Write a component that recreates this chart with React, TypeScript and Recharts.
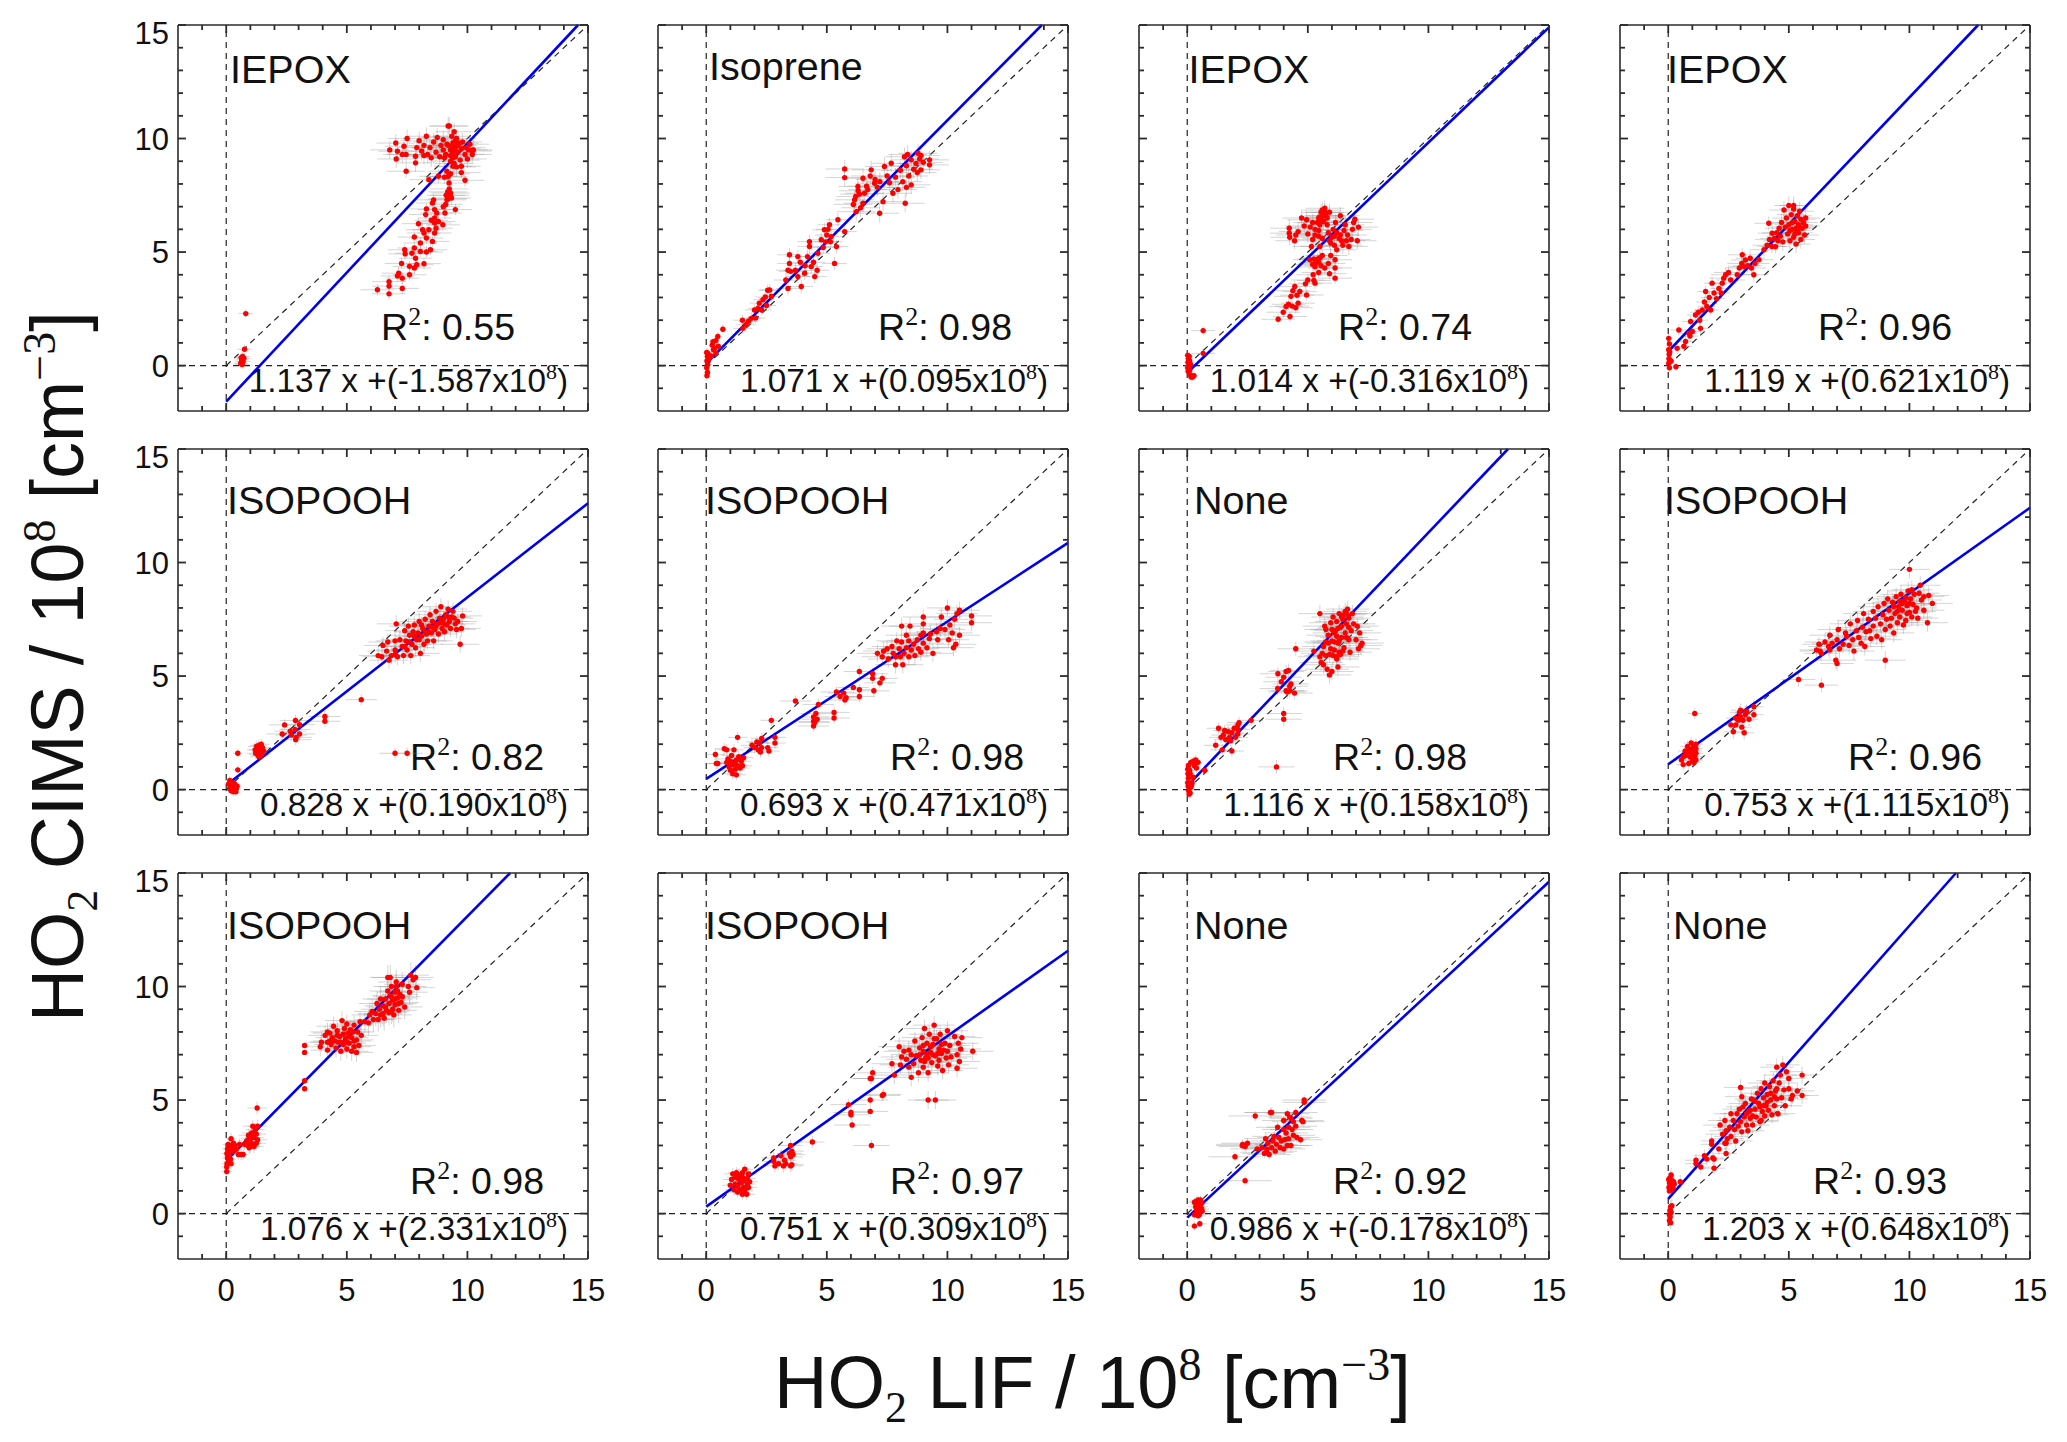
import React from "react";
import {
  ScatterChart,
  Scatter,
  XAxis,
  YAxis,
  ErrorBar,
  ReferenceLine,
} from "recharts";

// one group = [x error, y error, points as [x, y]]
type Group = [number, number, number[][]];

const majorTicks = [0, 5, 10, 15];
const allTicks = [-1, 0, 1, 2, 3, 4, 5, 6, 7, 8, 9, 10, 11, 12, 13, 14, 15];
const domain = [-2, 15];

const names = ["IEPOX", "Isoprene", "IEPOX", "IEPOX", "ISOPOOH", "ISOPOOH", "None", "ISOPOOH", "ISOPOOH", "ISOPOOH", "None", "None"];
const rSquared = ["0.55", "0.98", "0.74", "0.96", "0.82", "0.98", "0.98", "0.96", "0.98", "0.97", "0.92", "0.93"];
const slopes = [1.137, 1.071, 1.014, 1.119, 0.828, 0.693, 1.116, 0.753, 1.076, 0.751, 0.986, 1.203];
const intercepts = [-1.587, 0.095, -0.316, 0.621, 0.19, 0.471, 0.158, 1.115, 2.331, 0.309, -0.178, 0.648];

const panel1: Group[] = [
  [0.3, 0.2, [[.81,2.29],[.76,.72],[.68,.4],[.64,.25],[.73,.32],[.6,.1],[.7,.18],[.66,.05],[.62,.35]]],
  [0.7, 0.25, [[6.27,3.34],[6.75,3.16],[6.75,3.5],[6.75,3.7],[7.3,3.4],[7.3,3.85],[7.15,4.07],[7.1,3.95],[7.6,4],[7.27,4.5],[7.6,4.37],[7.8,4.3],[7.9,4.44],[8.2,4.49],[7.7,4.95],[7.4,5.1],[7.42,4.92],[7.8,5.18],[7.85,4.73],[8.05,5.03],[8.3,5],[8.47,5.1],[7.8,5.66],[8.05,5.4],[8.2,5.84],[8.14,5.98],[8.3,5.62],[8.55,5.47],[8.4,5.98],[8.64,5.84],[7.97,6.25],[8.64,6.28],[8.64,6.5],[8.98,6.2],[8.8,6.35],[8.27,6.65],[8.3,6.9],[8.55,7.16],[8.64,6.87],[8.73,6.72],[9.07,6.72],[9.5,6.87],[9,7],[9.1,7.1],[8.6,7.3],[8.5,6.4],[8.7,6.05]]],
  [0.8, 0.3, [[9.2,7.35],[9.28,7.5],[9.18,7.65],[9.25,7.78],[9.12,7.5],[9.34,7.38],[9.3,7.6],[9.15,7.3],[9.24,8.04],[9.2,8.33],[9.3,8.45],[9.9,8.16],[8.4,8.19],[8.8,8.34],[9.15,8.56],[9.4,8.78],[9.75,8.5],[9.75,8.78],[7.46,8.56],[9.05,8.3]]],
  [0.8, 0.4, [[6.78,9.5],[7.03,9.8],[7.1,9.44],[7.05,9.1],[7.3,9.3],[7.46,9.3],[7.5,10],[7.37,9.66],[7.85,8.93],[7.85,9.22],[7.9,9.6],[8,9.9],[8.1,9.45],[8.2,9.7],[8.3,10.1],[8.35,9.3],[8.45,9.6],[8.6,9.85],[8.7,9.4],[8.75,10.05],[8.85,9.2],[8.9,9.7],[9,9.5],[9,9.95],[9.1,9.3],[9.15,9.75],[9.2,10.55],[9.25,10.55],[9.3,9],[9.3,9.5],[9.35,10.1],[9.4,9.8],[9.45,10.3],[9.5,9.2],[9.5,9.6],[9.55,10],[9.6,9.4],[9.65,9.8],[9.7,9.05],[9.75,9.55],[9.8,9.85],[9.9,9.3],[9.95,9.6],[10,9.1],[10.05,9.5],[10.1,9.75],[10.2,9.3],[10.25,9.5],[10.2,9.45],[9.2,9.7],[9.3,9.25],[9.4,9.4],[9.45,8.9],[9.55,8.75],[8.5,9.15],[8.2,9.25],[9.05,9.15],[9.35,9.65],[9.45,9.55],[9.5,9.9],[9.6,9.7],[9.4,9.15]]],
];

const panel2: Group[] = [
  [0.15, 0.2, [[.03,-.45],[.05,-.3],[.02,-.1],[.06,.05],[.03,.2],[.05,.4],[.02,.58],[.08,.25],[.07,.54],[.12,.35],[.2,.42],[.28,1.05],[.3,.7],[.35,.76],[.4,.55],[.48,1.28],[.69,1.6],[.5,.85],[.25,.9],[.4,1.1]]],
  [0.4, 0.25, [[1.5,2],[1.52,1.64],[1.65,1.8],[1.87,2.08],[1.75,1.95],[2,2.45],[2.14,2.52],[2.05,2.1],[2.2,2.75],[2.35,2.9],[2.63,3.33],[2.7,3.04],[2.5,2.65],[2.45,3.02],[2.3,2.45],[2.55,3.32]]],
  [0.5, 0.3, [[3.45,4.88],[3.45,4.5],[3.39,4.2],[3.3,3.77],[3.39,3.4],[3.5,4.15],[3.7,4.2],[3.8,4.8],[3.8,3.92],[3.94,3.48],[4.08,4.07],[4.2,4.8],[4.35,4.36],[4.5,3.92],[4.28,5.46],[4.28,5.25],[4.63,4.95],[4.77,5.54],[4.9,5.98],[5.11,6.2],[5.18,5.68],[5.4,5.24],[5.32,4.5],[4.85,5.2],[5,5.75],[5.05,6],[4.45,4.55],[4.6,4.2],[3.9,4.55],[4.1,4.4],[5.74,5.9],[5.46,6.42],[4.95,5.45],[5.15,5.45]]],
  [0.8, 0.4, [[5.74,8.66],[5.74,8.28],[6.15,7.3],[6.22,6.78],[6.29,7.89],[6.56,7.59],[6.5,8.25],[6.84,8.62],[6.98,8.03],[7.19,6.71],[7.33,7.22],[7.39,8.77],[7.67,8.91],[7.74,7.59],[8.22,9.2],[8.25,7.15],[8.5,9.06],[8.5,7.96],[8.78,9.35],[9.26,9.06],[9.26,8.84],[8.9,8.62],[6.1,7.1],[6.2,7.45],[6.4,6.95],[6.5,7.15],[6.35,7.55],[6.7,7.75],[6.8,8.35],[7,8.2],[7.1,7.85],[7.2,8.1],[7.5,8.35],[7.6,8.05],[7.85,8.3],[7.95,7.75],[8.05,8.6],[8.15,8.1],[8.3,8.8],[8.4,8.35],[8.6,8.65],[8.7,8.9],[8.75,8.5],[8.85,9.1],[9,8.95],[8.3,7.85],[8.35,9.3],[8.9,9.25],[6.3,7.7],[6.65,7.9]]],
];

const panel3: Group[] = [
  [0.15, 0.2, [[.02,.45],[.05,.3],[.03,.15],[.08,.4],[.06,0],[.02,-.1],[.04,-.25],[.1,-.2],[.14,.05],[.1,.2],[.12,-.4],[.16,-.5],[.22,-.5],[.28,-.45]]],
  [0.5, 0.2, [[.66,1.54],[.66,.54]]],
  [0.7, 0.25, [[3.77,2.04],[3.98,2.35],[4.26,2.16],[4.35,2.62],[4.2,2.7],[4.1,2.6],[4.5,2.55],[4.6,2.75],[4.3,3.05],[4.46,3.48],[4.38,3.3],[4.67,3.26],[4.55,3.1],[4.95,3.11],[5,3.77],[4.9,3.6],[5.3,3.63],[5.22,4],[5.08,4.66],[5.3,4.35],[5.4,4.7],[5.45,4.1],[5.55,4.4],[5.6,4.85],[5.2,4.45],[5.35,4.55],[5.7,4.3],[5.85,4.5],[5.9,4.05],[6.13,3.85],[6.13,4.3],[6.13,4.66],[5.95,4.85],[5.25,3.75],[5.3,4.5],[5.45,4.55],[5.5,4.75],[5.25,4.7]]],
  [0.8, 0.38, [[4.23,6.05],[4.23,5.83],[4.25,5.65],[4.5,5.75],[4.45,5.5],[4.6,5.9],[4.74,6.5],[4.95,6.42],[4.85,6.15],[5,5.8],[5.1,6.1],[5.2,5.55],[5.3,6],[5.4,6.3],[5.45,5.7],[5.5,5.25],[5.5,6.55],[5.6,6.85],[5.7,6.93],[5.75,6.6],[5.8,6.2],[5.85,5.85],[5.65,6.35],[5.55,6.75],[5.9,6.75],[5.95,5.4],[6,5.65],[6.05,6],[6.15,6.3],[6.2,5.1],[6.3,5.6],[6.35,6.6],[6.45,5.3],[6.5,5.95],[6.55,6.2],[6.65,5.75],[6.7,5.25],[6.8,5.55],[6.85,6],[6.9,6.3],[6.95,6.45],[7.05,5.5],[7.1,6.1],[5.8,6.5],[5.6,5.6],[5.2,6.3],[5.15,5.25],[6.1,5.3],[5.9,5.5],[5.45,6.5],[5.55,6.4],[5.65,6.6],[5.7,6.75],[5.5,6.2],[5.3,5.75],[5.45,5.95],[6.1,5.7],[6.2,5.85],[6.35,5.75],[6.4,5.5],[6.6,5.5]]],
];

const panel4: Group[] = [
  [0.12, 0.2, [[.02,1.2],[.05,.95],[.02,.7],[.04,.5],[.03,.3],[.02,.1],[.05,-.1],[.06,.6],[.32,-.05],[.12,.2]]],
  [0.35, 0.25, [[.44,1.57],[.37,.76],[.72,1.06],[.86,1.42],[.93,1.94],[1.13,2.23],[1.34,1.64],[1.41,2.45],[1.55,3.26],[1.76,2.45],[1.82,3.63],[.9,1.3],[.65,.85],[1,1.5],[1.25,2.35],[1.3,2],[1.5,2.8],[1.6,2.6],[1.7,3],[1.9,3.2],[2,2.95],[2.1,3.4],[2.2,3.2]]],
  [0.6, 0.3, [[2.24,3.63],[2.38,4],[2.59,3.77],[2.86,4],[3.07,4.88],[3.14,4.36],[3.4,4.73],[3.55,4],[3.76,4.66],[3.97,5.1],[2.5,4.1],[2.3,3.85],[2.95,4.3],[3.05,4.5],[3.3,4.4],[3.45,4.3],[3.2,4.65],[3.6,4.5],[4.17,6.27],[4.31,5.83],[4.45,5.24],[4.1,5.3],[4.2,5.55],[4.3,5.25],[4.4,5.6],[4.5,5.85],[4.55,5.5]]],
  [0.6, 0.4, [[4.6,6.05],[4.65,5.7],[4.7,6.3],[4.75,5.45],[4.8,6.85],[4.85,6.1],[4.9,6.5],[4.95,5.8],[5,7.05],[5,6.2],[5.05,5.5],[5.1,6.65],[5.15,6],[5.2,6.9],[5.2,5.65],[5.25,6.35],[5.3,5.35],[5.3,6.05],[5.35,6.6],[5.4,5.85],[5.4,6.2],[5.45,6.8],[5.5,5.55],[5.5,6.45],[5.55,6.05],[5.6,6.3],[5.65,5.75],[5.7,6.5],[5.7,6.15],[5.2,7.05],[5.05,5.95],[5.15,6.3],[5.25,5.8],[5.35,5.95],[5.45,6.1]]],
];

const panel5: Group[] = [
  [0.2, 0.2, [[.1,.25],[.15,.4],[.2,.1],[.25,.3],[.3,.15],[.35,.25],[.4,.05],[.45,.15],[.2,-.05],[.3,-.1],[.4,-.1],[.15,.05],[.48,1.6],[.48,.87]]],
  [0.35, 0.25, [[1.2,1.75],[1.22,1.6],[1.25,1.9],[1.3,1.55],[1.3,1.75],[1.35,1.95],[1.35,1.45],[1.4,1.65],[1.42,1.8],[1.45,2],[1.48,1.55],[1.5,1.85],[1.4,1.5],[1.55,1.7]]],
  [0.65, 0.25, [[2.42,2.85],[2.87,3.04],[3.04,2.86],[2.32,2.45],[2.65,2.57],[2.7,2.4],[2.9,2.3],[2.88,2.2],[3.04,2.45],[2.85,2.65],[4.09,3.22],[4.09,3.01],[5.6,3.96],[7,1.6],[7.5,1.6]]],
  [0.8, 0.38, [[6.3,5.9],[6.5,6.35],[6.45,5.85],[6.65,6.1],[6.7,6.5],[6.75,5.7],[6.85,5.9],[7,6.15],[7,6.55],[7.05,7.3],[7.1,5.85],[7.2,6.6],[7.3,6.3],[7.35,5.9],[7.4,7],[7.45,6.55],[7.5,6.15],[7.6,6.8],[7.65,5.9],[7.7,6.4],[7.75,6.95],[7.8,7.25],[7.85,6.25],[7.9,6.6],[7.95,6.9],[8,7.4],[8.05,6],[8.1,6.75],[8.15,7.1],[8.2,6.4],[8.25,7.5],[8.3,6.85],[8.35,6.55],[8.4,7.2],[8.45,7.7],[8.5,6.9],[8.55,7.4],[8.6,6.55],[8.65,7.05],[8.7,7.85],[8.75,7.3],[8.8,6.85],[8.85,7.55],[8.9,8.05],[8.95,7.1],[9,7.5],[9.05,6.95],[9.1,7.7],[9.15,7.25],[9.2,7.95],[9.25,7.4],[9.3,7.1],[9.35,7.6],[9.4,7.85],[9.5,7.3],[9.55,7.05],[9.6,7.4],[9.75,7.1],[9.8,7.65],[9.7,6.4],[7.6,6.5],[7.8,6.75],[8,6.6],[8.1,7.25],[8.25,6.95],[8.4,6.95],[8.55,7.15],[8.7,7.2],[8.9,7.35],[9.05,7.3],[9.2,7.6],[9.45,7.55],[7.4,6.3],[7,5.95],[7.55,7.2]]],
];

const panel6: Group[] = [
  [0.4, 0.25, [[.38,1.55],[.42,1.15],[.48,1.15],[.75,1.8],[.85,1.75],[.9,1.35],[.85,1.2],[.95,1],[1,.85],[1,1.25],[1.05,1.5],[1.1,.7],[1.1,1.1],[1.15,1.75],[1.2,.9],[1.25,.65],[1.25,1.3],[1.3,1.05],[1.3,2.3],[1.35,1.45],[1.4,.95],[1.45,1.25],[1.5,1.05],[1.55,1.4],[.95,1.15],[1.2,1.15]]],
  [0.45, 0.25, [[1.9,1.95],[2,1.85],[2.1,2.1],[2.15,1.75],[2.2,2.05],[2.25,1.65],[2.3,1.85],[2.3,2.25],[2.55,1.85],[2.6,1.7],[2.85,2.3],[2.85,2.05],[2.7,3.05]]],
  [0.65, 0.25, [[3.7,3.9],[4.45,3],[4.45,2.8],[4.45,3.2],[4.55,3.35],[4.65,3.75],[4.6,3.1],[4.5,2.95],[5.3,3.4],[5.3,3.15],[5.4,4.3],[5.55,4.1],[5.7,4.25],[5.75,3.95],[5.8,4.05],[6.1,4.5],[6.35,4.4],[6.35,5.2],[6.35,4.1],[6.9,4.9],[6.95,4.35],[6.9,5.1],[7.2,4.7],[7.3,4.9]]],
  [0.85, 0.38, [[7.1,6],[7.3,5.85],[7.35,6.1],[7.5,6.2],[7.55,5.75],[7.7,6.3],[7.75,6],[7.85,5.5],[7.9,6.55],[7.85,5.85],[8,6.2],[8.05,5.85],[8.1,7.2],[8.1,6.5],[8.15,5.5],[8.2,6],[8.3,6.8],[8.3,6.25],[8.4,6.55],[8.4,5.85],[8.45,7.2],[8.5,6.15],[8.6,6.4],[8.65,5.9],[8.75,6.6],[8.8,6.2],[8.9,6.8],[8.9,6.05],[9,6.45],[9,7.3],[9,6.9],[9.15,6.25],[9.25,6.65],[9,7.6],[9.3,6.85],[9.4,6],[9.55,6.95],[9.7,7.1],[9.6,6.6],[10,8],[10.05,6.6],[10.1,7.25],[10.2,6.9],[10.3,7.5],[10.25,6.25],[10.35,6.4],[10.4,7.75],[10.5,6.8],[10.5,7.9],[11,7.65],[11,7.35],[9.9,7.05],[9.75,7.6]]],
];

const panel7: Group[] = [
  [0.15, 0.22, [[.02,.9],[.03,.7],[.05,.5],[.02,.3],[.04,.15],[.06,-.05],[.08,-.2],[.12,-.15],[.15,.1],[.18,.2],[.05,1.05],[.1,.85],[.2,.3],[.25,.55],[.12,.7],[.15,1.2],[.25,1.25],[.3,1.05],[.35,1.3],[.4,1.2],[.38,.95],[.45,1.2],[.72,.85]]],
  [0.5, 0.25, [[1.18,1.95],[1.3,2.7],[1.4,2.3],[1.45,1.75],[1.5,2.4],[1.55,2.6],[1.6,2.2],[1.7,2.55],[1.75,2.3],[1.8,2.15],[1.85,1.7],[1.85,2.5],[1.95,2.7],[2,2.3],[2.1,2.45],[2.1,2.85],[2.15,2.95],[2.65,3.05],[2.1,2.65]]],
  [0.75, 0.3, [[3.7,1],[3.76,5.1],[3.75,4.45],[3.9,4.75],[4,4.95],[4.1,5.2],[4.2,5.25],[4.1,4.35],[4.25,4.55],[4.3,4.65],[4.25,4.35],[4.15,4.3],[4.45,4.25],[4,3.35],[4,3.1],[4.5,6.2]]],
  [0.9, 0.38, [[5.25,6.1],[5.5,5.85],[5.55,5.6],[5.6,6],[5.65,5.5],[5.7,7.2],[5.5,7.75],[5.65,6.3],[5.75,7.05],[5.75,6.5],[5.8,5.3],[5.85,6.8],[5.9,5.95],[5.95,7.35],[6,6.55],[6,5.2],[6.05,7.6],[6.1,6.15],[6.1,6.9],[6.15,7],[6.2,5.75],[6.2,7.4],[6.25,6.45],[6.3,7.75],[6.35,5.95],[6.35,7.15],[6.4,6.7],[6.45,7.5],[6.5,6.25],[6.55,7.85],[6.55,6.9],[6.6,7.3],[6.65,7.95],[6.7,6.6],[6.7,7.55],[6.75,6.05],[6.8,7],[6.85,7.75],[6.9,7.3],[7,6.6],[7.05,7.2],[7.1,6.2],[7.15,6.9],[7.2,6.35],[7.25,6.45],[6.05,5.9],[5.9,5.05],[6.25,5.4],[6.2,5.85],[6.2,6.75],[6.3,6.55],[6.4,7.2],[6.45,6.1],[6.5,7.7],[6.6,6.7],[6.7,7.15],[6.25,7.1],[6,7.05],[6.1,6.5],[5.95,6.2],[5.85,6.45],[5.75,5.9],[6.3,6.05],[6.4,7.6],[6.6,7.75]]],
];

const panel8: Group[] = [
  [0.3, 0.25, [[.62,1.45],[.55,1.3],[.7,1.7],[.72,1.5],[.8,1.9],[.85,1.65],[.9,1.45],[.95,2.05],[.95,1.75],[1,1.55],[1,1.3],[1.05,1.2],[1.05,1.9],[1.1,1.7],[1.1,1.45],[1.15,2],[1.15,1.8],[1.15,1.6],[1.15,1.3],[.85,1.15],[.62,1.1],[1.1,3.35]]],
  [0.4, 0.3, [[2.6,2.85],[2.7,2.55],[2.8,2.85],[2.8,3.15],[2.9,3.05],[2.95,3.4],[3,3.5],[3,3.2],[3.05,2.75],[3.1,3.05],[3.15,2.5],[3.2,3.3],[3.25,3.45],[3.35,3.1],[3.55,3.3],[3.55,3.65]]],
  [0.7, 0.32, [[5.4,4.85],[6.35,4.6],[7,5.55],[6.35,6],[6.15,6.15],[6.25,6.4]]],
  [0.85, 0.4, [[6.3,6.1],[6.5,6.5],[6.65,6.3],[6.7,6.8],[6.7,6.15],[6.8,6.45],[6.95,5.7],[7,6.6],[7.05,7.05],[7.1,6.2],[7.25,6.4],[7.35,6.9],[7.4,6.75],[7.5,6.35],[7.55,7.3],[7.65,6.6],[7.7,6.1],[7.8,7],[7.85,7.45],[7.9,6.7],[8,6.45],[8.05,7.15],[8.1,7.75],[8.15,6.3],[8.2,6.95],[8.3,7.5],[8.35,7],[8.4,6.65],[8.5,7.85],[8.5,7.2],[8.6,7.55],[8.65,6.75],[8.7,8.05],[8.8,7.3],[8.85,6.6],[8.9,7.7],[8.95,8.2],[9,5.7],[9,7.05],[9.05,7.5],[9.1,8.4],[9.15,7.9],[9.2,7.2],[9.25,7.55],[9.3,8.25],[9.35,6.9],[9.4,7.75],[9.45,8.5],[9.5,7.35],[9.55,8.05],[9.6,7.6],[9.65,8.6],[9.7,7.9],[9.75,7.25],[9.8,8.3],[9.85,7.45],[9.9,8.1],[9.95,8.75],[10,7.8],[10,9.7],[10.05,8.4],[10.1,7.6],[10.15,8.15],[10.3,8],[10.35,7.55],[10.4,8.65],[10.45,9],[10.5,8.35],[10.6,7.9],[10.6,8.5],[10.8,8.55],[10.95,8.2],[10.75,7.35],[9.7,8.2],[9.85,8.45],[10,8.2],[10.2,8.6],[9.5,7.85],[9.6,8.3],[9.9,7.75],[10.25,7.85],[10.1,8.8],[9.35,8.05]]],
];

const panel9: Group[] = [
  [0.22, 0.25, [[.02,1.85],[.02,2.05],[.03,2.2],[.05,2.45],[.03,2.65],[.05,2.85],[.08,3.05],[.1,2.3],[.12,2.55],[.15,2.7],[.15,3],[.18,2.4],[.2,3.3],[.25,2.9],[.3,2.75],[.3,3.1],[.35,3],[.42,2.85],[.5,2.6],[.55,3.05],[.62,2.6],[.7,2.6],[.75,3.05],[.2,2.2]]],
  [0.4, 0.28, [[.85,3.2],[.9,3],[.92,3.45],[.95,2.9],[1,3.3],[1,2.95],[1.05,3.55],[1.05,3.1],[1.1,3.85],[1.15,3.35],[1.15,2.95],[1.2,3.7],[1.25,3.1],[1.25,3.5],[1.3,3.85],[1.3,3.25],[1.28,4.65]]],
  [0.1, 0.1, [[3.25,5.5],[3.25,5.85],[3.25,7.1],[3.25,7.4]]],
  [0.7, 0.42, [[3.9,7.35],[3.95,7.55],[4.1,7.85],[4.2,8],[4.2,7.2],[4.2,7.55],[4.3,7.6],[4.3,7.95],[4.35,7.45],[4.4,7.75],[4.45,8.25],[4.55,7.3],[4.6,8.05],[4.65,7.55],[4.7,7.8],[4.75,7.15],[4.8,8.5],[4.85,7.45],[4.9,8.15],[4.95,7.7],[5,7.25],[5,8.35],[5.05,7.95],[5.1,7.5],[5.15,8.1],[5.2,7.75],[5.2,7.15],[5.3,7.35],[5.3,8.3],[5.4,7.65],[5.45,8],[5.5,7.4],[5.55,8.45],[5.6,7.85],[5.4,7.1],[5.75,8.45],[4.6,7.85],[4.75,7.55],[4.85,7.9],[5,7.55],[5.1,7.8],[5.25,8],[5.3,7.6],[4.5,7.6]]],
  [0.75, 0.55, [[5.9,8.4],[5.95,8.75],[6.05,8.9],[6.1,8.55],[6.2,8.8],[6.25,9.25],[6.3,8.55],[6.35,9],[6.4,8.75],[6.4,9.45],[6.5,9.15],[6.55,8.6],[6.6,9.45],[6.65,8.95],[6.7,9.8],[6.7,10.4],[6.75,9.25],[6.8,9.6],[6.85,8.9],[6.85,10],[6.9,9.4],[6.95,8.75],[7,9.75],[7,9.2],[7.05,10],[7.05,10.2],[7.1,9.5],[7.15,8.95],[7.25,9.3],[7.3,10.1],[7.3,9.55],[7.4,9.1],[7.55,10],[7.6,9.75],[7.75,10.3],[7.85,10.4],[7.65,10.5],[6.8,10.4],[7.9,9.95],[6.6,9.1],[6.75,8.85],[6.9,9],[7,9.45],[7.15,9.25],[7.2,9.65],[6.5,8.8],[6.85,9.55],[7.1,9.8]]],
];

const panel10: Group[] = [
  [0.35, 0.25, [[1,1.25],[1.05,1.5],[1.1,1.75],[1.15,1.05],[1.2,1.3],[1.2,1.6],[1.25,1.8],[1.3,.95],[1.3,1.2],[1.35,1.5],[1.35,1.7],[1.4,1.05],[1.45,1.35],[1.5,.85],[1.5,1.6],[1.5,1.8],[1.55,1.15],[1.55,1.45],[1.6,1.95],[1.6,1],[1.7,1.3],[1.7,1.55],[1.75,1.75],[1.75,1.15],[1.8,1.4],[1.68,.85]]],
  [0.5, 0.28, [[2.8,2.3],[2.8,2.45],[2.85,2.1],[3,2.2],[3.1,2.55],[3.2,2.1],[3.25,2.35],[3.3,2.2],[3.45,2.65],[3.5,3],[3.5,2.5],[3.5,2.1],[3.55,2.15],[3.6,2.6],[3.55,2.75],[4.4,3.15]]],
  [0.75, 0.25, [[5.9,4.8],[6,4.45],[6,4.35],[6.05,3.9],[6.8,5],[6.8,4.5],[6.85,3],[6.85,5.95],[6.8,5.95],[7.3,5.2],[7.35,5.25],[6.9,6.2]]],
  [0.85, 0.4, [[7.7,6.6],[7.8,6.1],[8,7.35],[8.05,6.55],[8.1,6.9],[8.2,7.15],[8.3,6.8],[8.4,6.45],[8.4,7.2],[8.5,6],[8.5,7],[8.6,6.6],[8.65,7.6],[8.7,6.95],[8.8,6.2],[8.85,7.3],[8.9,6.75],[8.95,7.75],[9,6.45],[9,7.15],[9.05,8.15],[9.1,6.85],[9.15,7.5],[9.2,5],[9.2,6.2],[9.25,7.9],[9.3,7.1],[9.35,6.65],[9.4,7.45],[9.45,8.3],[9.5,5],[9.5,6.95],[9.55,7.7],[9.6,6.5],[9.65,7.25],[9.7,7.9],[9.75,7.05],[9.8,6.3],[9.9,7.5],[9.95,6.85],[10,8.05],[10,7.15],[10.05,6.55],[10.1,7.4],[10.15,6.9],[10.3,7.8],[10.4,7],[10.45,7.5],[10.5,6.7],[10.55,7.25],[10.6,7.75],[10.4,6.4],[11.05,7.15],[9,7.4],[9.15,7],[9.3,7.35],[9.4,7],[9.45,7.7],[9.6,7.05],[9.65,6.75],[9.75,7.45],[9.85,7.2],[9.2,6.85],[8.85,7],[9.05,6.7]]],
];

const panel11: Group[] = [
  [0.3, 0.2, [[.3,.5],[.35,.3],[.38,.55],[.4,.15],[.42,.4],[.45,.6],[.48,.25],[.5,.45],[.55,.3],[.55,.55],[.6,.2],[.6,.45],[.62,.1],[.4,0],[.5,-.05],[.3,-.55],[.52,-.45],[.3,-.05],[.45,-.1],[.55,.6]]],
  [1.1, 0.22, [[2.4,1.45],[2.28,3],[1.98,2.5],[2.3,3.05],[2.4,2.95],[2.5,3.1],[2.9,2.85],[3.3,2.7],[3.45,4.45],[3.5,4.45],[2.82,4.3]]],
  [0.9, 0.22, [[3.1,2.9],[3.2,2.65],[3.25,3.3],[3.3,2.85],[3.35,3.1],[3.4,2.6],[3.5,2.9],[3.55,3.2],[3.6,3.4],[3.65,2.75],[3.7,3.05],[3.75,3.8],[3.8,3.35],[3.85,2.9],[3.9,3.2],[4,3.7],[4,4.1],[4,2.85],[4.05,3.25],[4.1,3.55],[4.15,3],[4.15,4.4],[4.2,3.8],[4.2,3.3],[4.25,4.25],[4.3,4.2],[4.3,3],[4.35,3.7],[4.4,3.45],[4.4,4.05],[4.5,4.45],[4.5,3.85],[4.55,3.35],[4.7,3.25],[4.75,4.1],[4.8,4.05],[4.85,5],[4.85,4.9]]],
];

const panel12: Group[] = [
  [0.12, 0.3, [[.02,1.5],[.05,1.35],[.03,1.15],[.08,1.55],[.12,1.7],[.15,1.45],[.1,1.25],[.15,1.05],[.18,1.35],[.2,1.15],[.22,1.4],[.25,1.3],[.5,1.4],[.05,-.05],[.08,-.15],[.1,.3],[.08,.15],[.05,-.3],[.12,.05],[.1,-.4],[.15,.35],[.05,1]]],
  [0.45, 0.28, [[1.15,2.35],[1.15,2.2],[1.35,2.05],[1.5,2.55],[1.6,2.4],[1.85,2.45],[1.9,2],[1.9,2.4],[1.8,3.05],[1.8,3.2],[2.4,2.65],[2.4,3.1],[2.35,3.1],[2.1,2.85]]],
  [0.7, 0.38, [[2.15,3.9],[2.25,3.5],[2.35,4.1],[2.4,3.65],[2.45,3.3],[2.55,3.8],[2.6,3.4],[2.6,4.4],[2.7,4.1],[2.75,3.7],[2.8,3.2],[2.85,4.4],[2.9,3.85],[2.95,4.6],[3,4.05],[3.05,3.6],[3.05,5.15],[3,5.55],[3.1,4.7],[3.15,4.25],[3.2,4.85],[3.25,3.9],[3.3,3.65],[3.35,4.5],[3.4,4.2],[3.45,5.05],[3.5,3.9],[3.55,5],[3.6,4.6],[3.65,4.25],[3.7,5.3],[3.75,4.85],[3.8,4.05],[3.85,5.5],[3.9,4.5],[3.95,5.1],[4,5.75],[4,4.3],[4.05,4.75],[4.1,5.25],[4.15,4.55],[4.2,5.6],[4.25,5],[4.3,4.35],[4.35,5.85],[4.4,4.75],[4.45,5.4],[4.5,6.45],[4.5,5.05],[4.55,4.4],[4.6,5.75],[4.65,6.1],[4.7,5.1],[4.75,6.55],[4.8,5.45],[4.85,4.75],[4.9,6.25],[5,5.95],[5,5.5],[5.1,5.05],[5.15,5.2],[5.35,5.4],[5.55,5.2],[5.55,6.1],[3.85,4.1],[3.4,4.55],[3.6,4.95],[3.8,4.7],[3.95,4.75],[4.1,4.9],[4.25,5.3],[4.4,5.15],[4.5,5.5],[3.25,4.4],[3.5,4.3]]],
];

const panels = [panel1, panel2, panel3, panel4, panel5, panel6, panel7, panel8, panel9, panel10, panel11, panel12];

const panelLeft = [178, 658, 1139, 1620];
const panelTop = [25, 449, 873];
const plotW = 410;
const plotH = 386;
const pad = 60;
const thin = 0.001; // an axis of size 0 is not drawn at all

const nameX = [52, 51, 49.5, 47, 49, 47, 55, 44, 49, 47, 55, 53];
const nameY = [58, 55, 58, 58, 65, 65, 65, 65, 66, 66, 66, 66];
const r2X = [337, 354, 333, 332, 366, 366, 328, 362, 366, 366, 328, 327];
const r2Y = [315, 315, 315, 315, 321, 321, 321, 321, 321, 321, 321, 321];

const sans = "'Liberation Sans', Arial, sans-serif";
const serif = "'Liberation Serif', serif";
const frame = "#2b2b2b";
const labelSize = 31;
const tickWidth = 1.8;

// inward ticks on both sides of the frame, plus the label where the panel has one
function XTick({ x, y, payload, showLabel }: any) {
  const v = payload.value;
  const major = majorTicks.includes(v);
  const len = major ? 8 : 5;
  return (
    <g>
      <line x1={x} y1={y} x2={x} y2={y - len} stroke={frame} strokeWidth={tickWidth} />
      <line x1={x} y1={y - plotH} x2={x} y2={y - plotH + len} stroke={frame} strokeWidth={tickWidth} />
      {showLabel && major && (
        <text x={x} y={y + 42} textAnchor="middle" fontSize={labelSize} fontFamily={sans} fill="#111">
          {v}
        </text>
      )}
    </g>
  );
}

function YTick({ x, y, payload, showLabel }: any) {
  const v = payload.value;
  const major = majorTicks.includes(v);
  const len = major ? 8 : 5;
  // the top label sits lower than its tick
  const shift = v === 15 ? 8 : 0;
  return (
    <g>
      <line x1={x} y1={y} x2={x + len} y2={y} stroke={frame} strokeWidth={tickWidth} />
      <line x1={x + plotW} y1={y} x2={x + plotW - len} y2={y} stroke={frame} strokeWidth={tickWidth} />
      {showLabel && major && (
        <text x={x - 9} y={y + shift + 11} textAnchor="end" fontSize={labelSize} fontFamily={sans} fill="#111">
          {v}
        </text>
      )}
    </g>
  );
}

function Eq({ slope, b }: { slope: number; b: number }) {
  return (
    <>
      {slope.toFixed(3)} x +({b.toFixed(3)}x10
      <tspan dy={-13} fontSize={22} fontFamily={serif}>8</tspan>
      <tspan dy={13}>)</tspan>
    </>
  );
}

function Panel({ i }: { i: number }) {
  const col = i % 4;
  const row = Math.floor(i / 4);
  const m = slopes[i];
  const b = intercepts[i];
  const endX = Math.min(15, (15 - b) / m);
  const groups = panels[i];
  const edge = { stroke: frame, strokeWidth: 1.6 };

  return (
    <div style={{ position: "absolute", left: panelLeft[col] - pad, top: panelTop[row] - pad }}>
      <ScatterChart
        width={plotW + pad * 2}
        height={plotH + pad * 2}
        margin={{ top: pad, right: pad, bottom: pad, left: pad }}
      >
        <XAxis
          xAxisId="main"
          type="number"
          dataKey="x"
          domain={domain}
          ticks={allTicks}
          interval={0}
          height={thin}
          allowDataOverflow
          tickLine={false}
          tickSize={0}
          tickMargin={0}
          axisLine={edge}
          tick={<XTick showLabel={row === 2} />}
        />
        <YAxis
          yAxisId="main"
          type="number"
          dataKey="y"
          domain={domain}
          ticks={allTicks}
          interval={0}
          width={thin}
          allowDataOverflow
          tickLine={false}
          tickSize={0}
          tickMargin={0}
          axisLine={edge}
          tick={<YTick showLabel={col === 0} />}
        />
        <XAxis xAxisId="top" orientation="top" type="number" domain={domain} height={thin} tick={false} tickLine={false} axisLine={edge} />
        <YAxis yAxisId="right" orientation="right" type="number" domain={domain} width={thin} tick={false} tickLine={false} axisLine={edge} />

        <ReferenceLine xAxisId="main" yAxisId="main" y={0} stroke="#222" strokeWidth={1.2} strokeDasharray="6 5" />
        <ReferenceLine xAxisId="main" yAxisId="main" x={0} stroke="#222" strokeWidth={1.2} strokeDasharray="6 5" />
        <ReferenceLine
          xAxisId="main"
          yAxisId="main"
          segment={[{ x: 0, y: 0 }, { x: 14.8, y: 14.8 }]}
          stroke="#222"
          strokeWidth={1.2}
          strokeDasharray="6 5"
        />

        {groups.map((g, k) => (
          <Scatter
            key={k}
            xAxisId="main"
            yAxisId="main"
            data={g[2].map((p) => ({ x: p[0], y: p[1], ex: g[0], ey: g[1] }))}
            fill="#ff0000"
            shape={(props: any) => <circle cx={props.cx} cy={props.cy} r={2.7} fill="#ff0000" />}
            isAnimationActive={false}
          >
            <ErrorBar dataKey="ex" direction="x" width={0} stroke="#888" strokeOpacity={0.35} strokeWidth={1} isAnimationActive={false} />
            <ErrorBar dataKey="ey" direction="y" width={0} stroke="#888" strokeOpacity={0.35} strokeWidth={1} isAnimationActive={false} />
          </Scatter>
        ))}

        <ReferenceLine
          xAxisId="main"
          yAxisId="main"
          segment={[{ x: 0, y: b }, { x: endX, y: m * endX + b }]}
          stroke="#0000f0"
          strokeWidth={2.6}
        />

        <text x={pad + nameX[i]} y={pad + nameY[i]} fontSize={39.5} fontFamily={sans} fill="#111">
          {names[i]}
        </text>
        <text x={pad + r2X[i]} y={pad + r2Y[i]} textAnchor="end" fontSize={37.5} fontFamily={sans} fill="#111">
          R<tspan dy={-15} fontSize={26} fontFamily={serif}>2</tspan>
          <tspan dy={15}>: {rSquared[i]}</tspan>
        </text>
        <text x={pad + 390} y={pad + 367} textAnchor="end" fontSize={33.3} fontFamily={sans} fill="#111">
          <Eq slope={m} b={b} />
        </text>
      </ScatterChart>
    </div>
  );
}

export default function App() {
  return (
    <div style={{ position: "absolute", left: 0, top: 0, width: 2067, height: 1442, background: "#fff", overflow: "hidden" }}>
      {names.map((_, i) => (
        <Panel key={i} i={i} />
      ))}
      <svg width={2067} height={1442} style={{ position: "absolute", left: 0, top: 0, pointerEvents: "none" }}>
        <text x={774} y={1408} fontSize={74} fontFamily={sans} fill="#111">
          HO
          <tspan dy={14} fontSize={44} fontFamily={serif}>2</tspan>
          <tspan dy={-14}> LIF / 10</tspan>
          <tspan dy={-28} fontSize={46} fontFamily={serif}>8</tspan>
          <tspan dy={28}> [cm</tspan>
          <tspan dy={-28} fontSize={46} fontFamily={serif}>−3</tspan>
          <tspan dy={28}>]</tspan>
        </text>
        <text transform="translate(83 1022) rotate(-90)" fontSize={73.5} fontFamily={sans} fill="#111">
          HO
          <tspan dy={14} fontSize={44} fontFamily={serif}>2</tspan>
          <tspan dy={-14}> CIMS / 10</tspan>
          <tspan dy={-28} fontSize={46} fontFamily={serif}>8</tspan>
          <tspan dy={28}> [cm</tspan>
          <tspan dy={-28} fontSize={46} fontFamily={serif}>−3</tspan>
          <tspan dy={28}>]</tspan>
        </text>
      </svg>
    </div>
  );
}
